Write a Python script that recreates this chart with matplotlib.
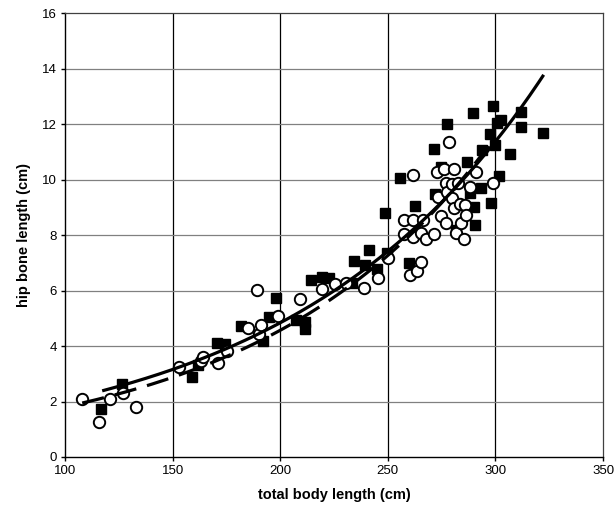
import numpy as np
import matplotlib
matplotlib.use("Agg")
import matplotlib.pyplot as plt

plt.rcParams['font.family'] = ['Liberation Sans', 'DejaVu Sans']

# filled squares
sq_x = [116.6, 126.7, 158.9, 162.0, 170.6, 174.5, 182.0, 191.9, 195.0, 198.1,
        207.4, 211.3, 211.4, 214.4, 219.5, 222.7, 233.5, 234.3, 239.3, 241.3,
        244.9, 248.5, 249.4, 255.5, 259.7, 262.6, 271.6, 271.9, 274.8, 277.6,
        281.7, 286.9, 288.0, 289.5, 290.0, 290.3, 293.4, 293.7, 297.6, 297.8,
        298.8, 299.6, 300.7, 301.6, 302.7, 306.6, 311.8, 311.8, 321.9]
sq_y = [1.73, 2.63, 2.87, 3.32, 4.10, 4.07, 4.72, 4.19, 5.06, 5.72,
        4.94, 4.63, 4.86, 6.38, 6.50, 6.44, 6.26, 7.07, 6.92, 7.48,
        6.76, 8.80, 7.34, 10.05, 7.01, 9.06, 11.12, 9.47, 10.46, 12.02,
        8.18, 10.64, 9.50, 12.41, 9.02, 8.36, 9.71, 11.06, 11.63, 9.14,
        12.65, 11.24, 12.05, 10.13, 12.14, 10.94, 12.44, 11.90, 11.69]

# open circles
ci_x = [107.9, 115.7, 120.8, 127.1, 133.0, 153.2, 163.1, 163.9, 171.0, 175.2,
        185.0, 190.0, 191.1, 189.2, 199.0, 209.0, 219.5, 225.5, 230.4, 239.0,
        245.2, 250.3, 257.3, 257.3, 260.4, 261.5, 261.5, 261.5, 263.4, 265.4,
        265.4, 266.4, 267.8, 271.6, 272.9, 273.5, 274.8, 276.0, 276.8, 277.1,
        277.6, 278.6, 279.7, 279.7, 280.6, 280.6, 281.7, 282.5, 283.6, 283.8,
        285.6, 286.0, 286.4, 288.0, 290.8, 298.8]
ci_y = [2.08, 1.25, 2.08, 2.32, 1.81, 3.23, 3.46, 3.59, 3.38, 3.82,
        4.66, 4.42, 4.76, 6.02, 5.08, 5.68, 6.04, 6.22, 6.28, 6.11,
        6.44, 7.16, 8.55, 8.04, 6.56, 8.55, 7.92, 10.17, 6.70, 7.04,
        8.06, 8.55, 7.86, 8.03, 10.26, 9.38, 8.70, 10.38, 8.42, 9.89,
        9.54, 11.36, 9.83, 9.35, 10.38, 8.96, 8.06, 9.86, 9.11, 8.44,
        7.86, 9.08, 8.72, 9.73, 10.28, 9.89]

# exponential trendlines y = a*exp(b*x)
solid_fit = (0.875, 0.00855)
solid_range = (118, 322)
dashed_fit = (0.714, 0.00928)
dashed_range = (108, 299)

x_ticks = [100, 150, 200, 250, 300, 350]
y_ticks = [0, 2, 4, 6, 8, 10, 12, 14, 16]

fig = plt.figure(figsize=(6.16, 5.11), dpi=100)
ax = fig.add_axes([0.1055, 0.1057, 0.8735, 0.8685])

ax.set_xlim(100, 350)
ax.set_ylim(0, 16)
ax.set_xticks(x_ticks)
ax.set_yticks(y_ticks)

# grid: black verticals, grey horizontals
for v in x_ticks[1:-1]:
    ax.axvline(v, color='black', lw=0.9, zorder=1)
for h in y_ticks[1:-1]:
    ax.axhline(h, color='#808080', lw=0.9, zorder=1)

ax.plot(sq_x, sq_y, 's', ms=7.5, color='black', mec='black', zorder=3)
ax.plot(ci_x, ci_y, 'o', ms=8.2, mfc='white', mec='black', mew=1.4, zorder=4)

xs = np.linspace(solid_range[0], solid_range[1], 200)
ax.plot(xs, solid_fit[0] * np.exp(solid_fit[1] * xs), color='black', lw=2.3, zorder=5)
xd = np.linspace(dashed_range[0], dashed_range[1], 200)
ax.plot(xd, dashed_fit[0] * np.exp(dashed_fit[1] * xd), color='black', lw=2.3,
        linestyle=(0, (7, 3.5)), zorder=5)

for side in ['top', 'right']:
    ax.spines[side].set_color('#404040')
    ax.spines[side].set_linewidth(0.9)
for side in ['left', 'bottom']:
    ax.spines[side].set_color('black')
    ax.spines[side].set_linewidth(1.0)

ax.tick_params(direction='out', length=3, width=1, labelsize=9.5, pad=3,
               top=False, right=False)
ax.set_xlabel('total body length (cm)', fontsize=10.5, fontweight='bold', labelpad=8)
ax.set_ylabel('hip bone length (cm)', fontsize=10.5, fontweight='bold', labelpad=8)

fig.savefig('out.png', dpi=100)
